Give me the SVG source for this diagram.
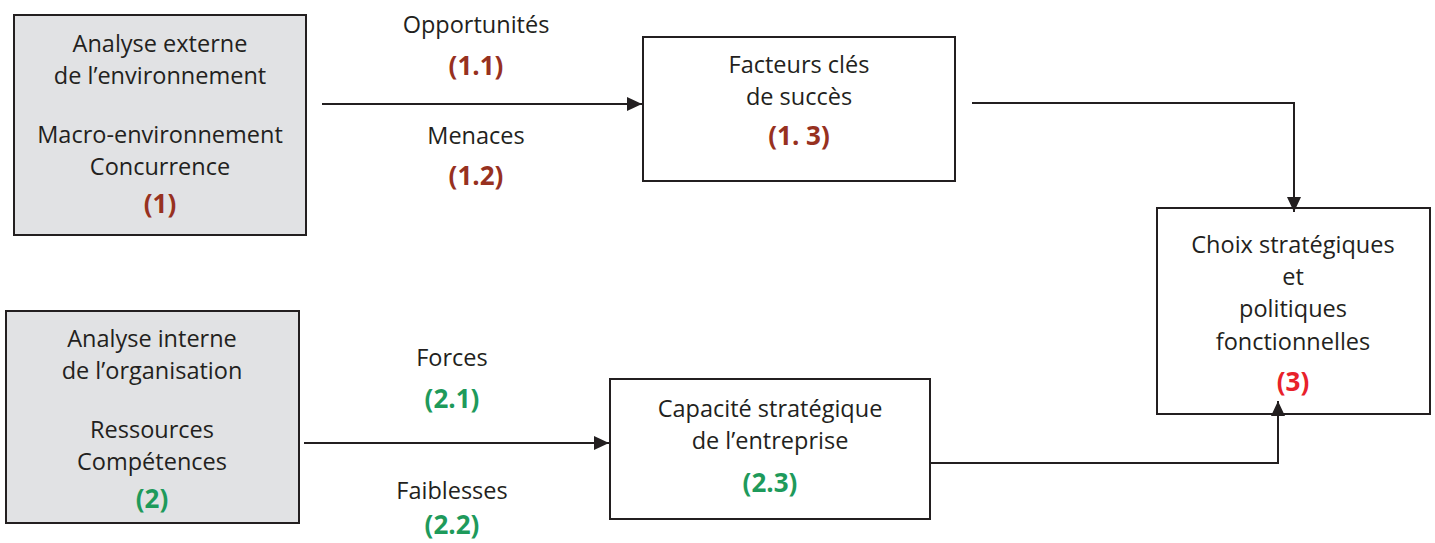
<svg xmlns="http://www.w3.org/2000/svg" width="1435" height="543" viewBox="0 0 1435 543">
<defs>
<marker id="ah" viewBox="0 0 15 14" refX="15" refY="7" markerWidth="15" markerHeight="14" markerUnits="userSpaceOnUse" orient="auto">
<path d="M0,0 L15,7 L0,14 z" fill="#231f20"/>
</marker>
<style>
.box{stroke:#231f20;stroke-width:2}
.grey{fill:#e1e2e4}
.white{fill:#ffffff}
text{font-family:"Open Sans","Noto Sans","DejaVu Sans",sans-serif;font-size:23.5px;fill:#231f20;text-anchor:middle}
.num{font-weight:bold;font-size:26px}
.red{fill:#97311f}
.green{fill:#1e9a5b}
.bright{fill:#e8212a}
.conn{fill:none;stroke:#231f20;stroke-width:2}
</style>
</defs>
<rect width="1435" height="543" fill="#ffffff"/>
<g id="labels">
<text x="476" y="33">Opportunités</text>
<text x="476" y="75" class="num red">(1.1)</text>
<text x="476" y="144">Menaces</text>
<text x="476" y="185" class="num red">(1.2)</text>
<text x="452" y="366">Forces</text>
<text x="452" y="408" class="num green">(2.1)</text>
<text x="452" y="499">Faiblesses</text>
<text x="452" y="534" class="num green">(2.2)</text>
</g>
<g id="node-externe">
<rect class="box grey" x="14" y="15" width="292" height="220"/>
<text x="160" y="52">Analyse externe</text>
<text x="160" y="84">de l’environnement</text>
<text x="160" y="143">Macro-environnement</text>
<text x="160" y="175">Concurrence</text>
<text x="160" y="213" class="num red">(1)</text>
</g>
<g id="node-facteurs">
<rect class="box white" x="643" y="37" width="312" height="144"/>
<text x="799" y="73">Facteurs clés</text>
<text x="799" y="105">de succès</text>
<text x="799" y="145" class="num red">(1. 3)</text>
</g>
<g id="node-choix">
<rect class="box white" x="1157" y="208" width="273" height="206"/>
<text x="1293" y="253">Choix stratégiques</text>
<text x="1293" y="285">et</text>
<text x="1293" y="317">politiques</text>
<text x="1293" y="350">fonctionnelles</text>
<text x="1293" y="391" class="num bright">(3)</text>
</g>
<g id="node-interne">
<rect class="box grey" x="6" y="311" width="293" height="212"/>
<text x="152" y="347">Analyse interne</text>
<text x="152" y="379">de l’organisation</text>
<text x="152" y="438">Ressources</text>
<text x="152" y="470">Compétences</text>
<text x="152" y="508" class="num green">(2)</text>
</g>
<g id="node-capacite">
<rect class="box white" x="610" y="379" width="320" height="140"/>
<text x="770" y="417">Capacité stratégique</text>
<text x="770" y="449">de l’entreprise</text>
<text x="770" y="492" class="num green">(2.3)</text>
</g>
<g id="connectors">
<path class="conn" d="M322,104 L642,104" marker-end="url(#ah)"/>
<path class="conn" d="M972,103 L1294,103 L1294,212" marker-end="url(#ah)"/>
<path class="conn" d="M304,443 L609,443" marker-end="url(#ah)"/>
<path class="conn" d="M930,463 L1278,463 L1278,401" marker-end="url(#ah)"/>
</g>
</svg>
